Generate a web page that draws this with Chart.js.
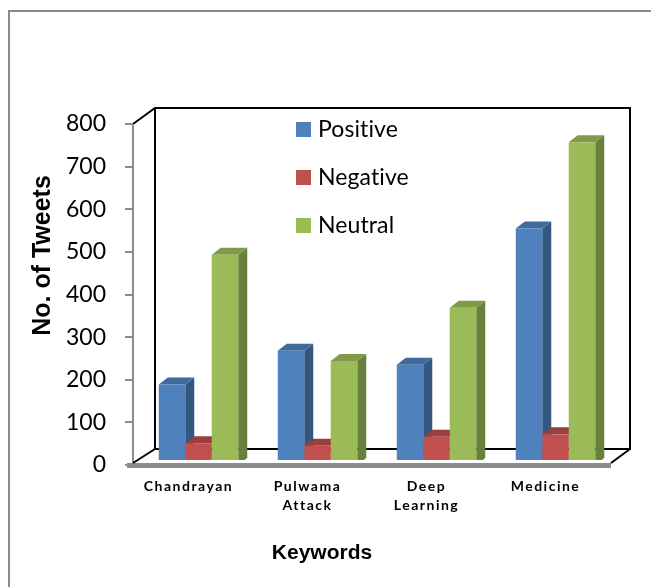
<!DOCTYPE html>
<html>
<head>
<meta charset="utf-8">
<script src="https://cdn.jsdelivr.net/npm/chart.js@4"></script>
<style>
  html, body { margin: 0; padding: 0; background: #fff; }
  #wrap { position: relative; width: 651px; height: 587px; overflow: hidden; }
  #frame { position: absolute; left: 8px; top: 10px; width: 700px; height: 700px; border: 2px solid #8c8c8c; }
  canvas { position: absolute; left: 0; top: 0; }
</style>
</head>
<body>
<div id="wrap">
  <div id="frame"></div>
  <canvas id="tweetsChart" width="651" height="587"></canvas>
</div>
<script>
const keywords = ['Chandrayan', ['Pulwama', 'Attack'], ['Deep', 'Learning'], 'Medicine'];
const seriesNames = ['Positive', 'Negative', 'Neutral'];
const positive = [189, 268, 235, 555];
const negative = [51, 45, 66, 72];
const neutral = [493, 244, 369, 757];
const yMax = 800;
const yStep = 100;

// front / top / side shades per series
const fronts = ['#4f81bd', '#c0504d', '#9bbb59'];
const tops = ['#3f6a9e', '#9a3f3c', '#7f9b47'];
const sides = ['#33577f', '#8a3937', '#68803b'];

const BAR_DX = 9, BAR_DY = 7;     // bar depth
const WALL_DX = 22, WALL_DY = 16; // box depth

const box3d = {
  id: 'box3d',
  afterLayout(chart) {
    const x = chart.scales.x, y = chart.scales.y;
    if (!x._patched) {
      const drawLabels = x.drawLabels.bind(x);
      const drawTitle = x.drawTitle.bind(x);
      x.drawLabels = function (area) {
        const c = chart.ctx;
        c.save();
        c.letterSpacing = '1.5px';
        c.translate(-10, 0);
        drawLabels(area);
        c.restore();
      };
      x.drawTitle = function () {
        const c = chart.ctx;
        c.save();
        c.translate(-55, 0);
        drawTitle();
        c.restore();
      };
      x._patched = true;
    }
    if (!y._patched) {
      const drawTitle = y.drawTitle.bind(y);
      y.drawTitle = function () {
        const c = chart.ctx;
        c.save();
        c.translate(0, -39);
        drawTitle();
        c.restore();
      };
      y._patched = true;
    }
  },
  beforeDatasetsDraw(chart) {
    const { ctx, chartArea: a, scales: { y } } = chart;
    const y0 = y.getPixelForValue(0);
    const yT = y.getPixelForValue(yMax);
    const fx = a.left - 6;
    const bx = a.right + 15;

    ctx.save();
    // back wall and floor back edge
    ctx.strokeStyle = '#000';
    ctx.lineWidth = 2;
    ctx.beginPath();
    ctx.moveTo(fx, yT);
    ctx.lineTo(fx + WALL_DX, yT - WALL_DY);
    ctx.lineTo(bx, yT - WALL_DY);
    ctx.lineTo(bx, y0 - WALL_DY);
    ctx.lineTo(fx + WALL_DX, y0 - WALL_DY);
    ctx.lineTo(fx + WALL_DX, yT - WALL_DY);
    ctx.stroke();

    // front value axis with ticks
    ctx.strokeStyle = '#8c8c8c';
    ctx.lineWidth = 2;
    ctx.beginPath();
    ctx.moveTo(fx, yT);
    ctx.lineTo(fx, y0 + 2);
    for (let v = 0; v <= yMax; v += yStep) {
      const py = Math.round(y.getPixelForValue(v));
      ctx.moveTo(fx - 8, py);
      ctx.lineTo(fx, py);
    }
    ctx.stroke();

    // bar sides then tops
    const metas = chart.data.datasets.map((d, i) => chart.getDatasetMeta(i));
    metas.forEach((meta, i) => {
      ctx.fillStyle = sides[i];
      meta.data.forEach(el => {
        const r = el.x + el.width / 2;
        ctx.beginPath();
        ctx.moveTo(r, el.y);
        ctx.lineTo(r + BAR_DX, el.y - BAR_DY);
        ctx.lineTo(r + BAR_DX, el.base - BAR_DY);
        ctx.lineTo(r, el.base);
        ctx.closePath();
        ctx.fill();
      });
    });
    metas.forEach((meta, i) => {
      ctx.fillStyle = tops[i];
      meta.data.forEach(el => {
        const l = el.x - el.width / 2, r = el.x + el.width / 2;
        ctx.beginPath();
        ctx.moveTo(l, el.y);
        ctx.lineTo(r, el.y);
        ctx.lineTo(r + BAR_DX, el.y - BAR_DY);
        ctx.lineTo(l + BAR_DX, el.y - BAR_DY);
        ctx.closePath();
        ctx.fill();
      });
    });
    ctx.restore();
  },
  afterDatasetsDraw(chart) {
    const { ctx, chartArea: a, scales: { y } } = chart;
    const y0 = y.getPixelForValue(0);
    const fx = a.left - 6;
    const rx = a.right - 4;
    const bx = a.right + 15;

    ctx.save();
    // floor strip and front edge
    ctx.fillStyle = '#fff';
    ctx.fillRect(fx + 1, y0 - 5, rx - fx + 12, 3);
    ctx.fillStyle = '#8c8c8c';
    ctx.fillRect(fx - 6, y0 - 2, rx - fx + 6, 5);
    ctx.strokeStyle = '#000';
    ctx.lineWidth = 2;
    ctx.beginPath();
    ctx.moveTo(fx, y0 - 2);
    ctx.lineTo(fx + WALL_DX, y0 - WALL_DY);
    ctx.moveTo(rx, y0 - 2);
    ctx.lineTo(bx, y0 - WALL_DY);
    ctx.stroke();
    ctx.restore();
  },
  afterDraw(chart) {
    const { ctx, chartArea: a, scales: { y } } = chart;
    const lx = a.left + 157;
    const ly = y.getPixelForValue(yMax) + 5;
    ctx.save();
    ctx.font = '23px Lato';
    ctx.letterSpacing = '0.1px';
    ctx.textBaseline = 'middle';
    seriesNames.forEach((name, i) => {
      const cy = ly + i * 48;
      ctx.fillStyle = fronts[i];
      ctx.fillRect(lx, cy - 7, 15, 15);
      ctx.fillStyle = '#000';
      ctx.fillText(name, lx + 22, cy + 1);
    });
    ctx.restore();
  }
};

function drawChart() {
  const ctx = document.getElementById('tweetsChart').getContext('2d');
  new Chart(ctx, {
    type: 'bar',
    data: {
      labels: keywords,
      datasets: [
        { label: seriesNames[0], data: positive, backgroundColor: fronts[0] },
        { label: seriesNames[1], data: negative, backgroundColor: fronts[1] },
        { label: seriesNames[2], data: neutral, backgroundColor: fronts[2] }
      ]
    },
    options: {
      responsive: false,
      animation: false,
      categoryPercentage: 0.668,
      barPercentage: 1,
      layout: { padding: { left: 0, right: 36, top: 124, bottom: 0 } },
      plugins: {
        legend: { display: false },
        tooltip: { enabled: false }
      },
      scales: {
        x: {
          grid: { display: false, drawTicks: false },
          border: { display: false },
          ticks: {
            color: '#000',
            padding: 12,
            font: { family: 'Lato', size: 14, weight: 'bold', lineHeight: 19 / 14 }
          },
          title: {
            display: true,
            text: 'Keywords',
            color: '#000',
            padding: { top: 0, bottom: 21 },
            font: { family: '"Liberation Sans"', size: 21, weight: 'bold' }
          },
          afterFit(scale) { scale.height = 122; }
        },
        y: {
          min: 0,
          max: yMax,
          grid: { display: false, drawTicks: false },
          border: { display: false },
          ticks: {
            stepSize: yStep,
            color: '#000',
            padding: 33,
            font: { family: 'Lato', size: 23 }
          },
          title: {
            display: true,
            text: 'No. of Tweets',
            color: '#000',
            padding: { top: 28, bottom: 0 },
            font: { family: '"Liberation Sans"', size: 25, weight: 'bold' }
          },
          afterFit(scale) { scale.width = 139; }
        }
      }
    },
    plugins: [box3d]
  });
}

Promise.all([
  document.fonts.load('23px Lato'),
  document.fonts.load('bold 14px Lato'),
  document.fonts.load('bold 21px "Liberation Sans"')
]).then(drawChart, drawChart);
</script>
</body>
</html>
